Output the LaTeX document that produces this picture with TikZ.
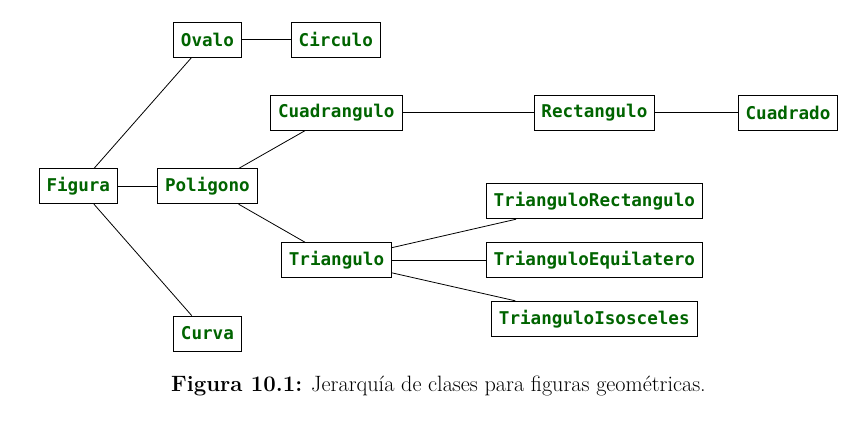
\documentclass[tikz,border=0pt]{standalone}
\usepackage{fontspec}
\usepackage{tikz}
\newfontfamily\codefont{DejaVu Sans Mono}
\definecolor{codegreen}{RGB}{0,100,0}

\begin{document}
\begin{tikzpicture}[x=1pt, y=-1pt,
        clase/.style={draw, line width=0.8pt, text=codegreen,
            font=\codefont\bfseries\fontsize{17.6}{20}\selectfont,
            minimum height=35pt, inner xsep=7.5pt, inner ysep=0pt},
        enlace/.style={line width=0.8pt}]
        \useasboundingbox (0, 0) rectangle (863, 421);

        \node[clase] (figura) at (78.3, 186.3) {Figura};
        \node[clase] (ovalo) at (207.4, 39.5) {Ovalo};
        \node[clase] (circulo) at (335.8, 39.5) {Circulo};
        \node[clase] (poligono) at (207.4, 186.3) {Poligono};
        \node[clase] (curva) at (207.4, 333.5) {Curva};

        \node[clase] (cuadrangulo) at (336.3, 112.8) {Cuadrangulo};
        \node[clase] (rectangulo) at (594.4, 112.8) {Rectangulo};
        \node[clase] (cuadrado) at (788, 112.8) {Cuadrado};

        \node[clase] (triangulo) at (336.5, 260.3) {Triangulo};
        \node[clase] (trirect) at (594.3, 201.3) {TrianguloRectangulo};
        \node[clase] (triequi) at (594.3, 260.3) {TrianguloEquilatero};
        \node[clase] (triiso) at (594.3, 318.7) {TrianguloIsosceles};

        \draw[enlace] (figura) -- (ovalo);
        \draw[enlace] (ovalo) -- (circulo);
        \draw[enlace] (figura) -- (poligono);
        \draw[enlace] (figura) -- (curva);

        \draw[enlace] (poligono) -- (cuadrangulo);
        \draw[enlace] (cuadrangulo) -- (rectangulo);
        \draw[enlace] (rectangulo) -- (cuadrado);

        \draw[enlace] (poligono) -- (triangulo);
        \draw[enlace] (triangulo) -- (trirect);
        \draw[enlace] (triangulo) -- (triequi);
        \draw[enlace] (triangulo) -- (triiso);

        % pie de figura
        \node[anchor=base, font=\fontsize{22.2}{26}\selectfont] (pie) at (438.5, 391)
            {\textbf{Figura 10.1:} Jerarquía de clases para figuras geométricas.};
    \end{tikzpicture}
\end{document}
